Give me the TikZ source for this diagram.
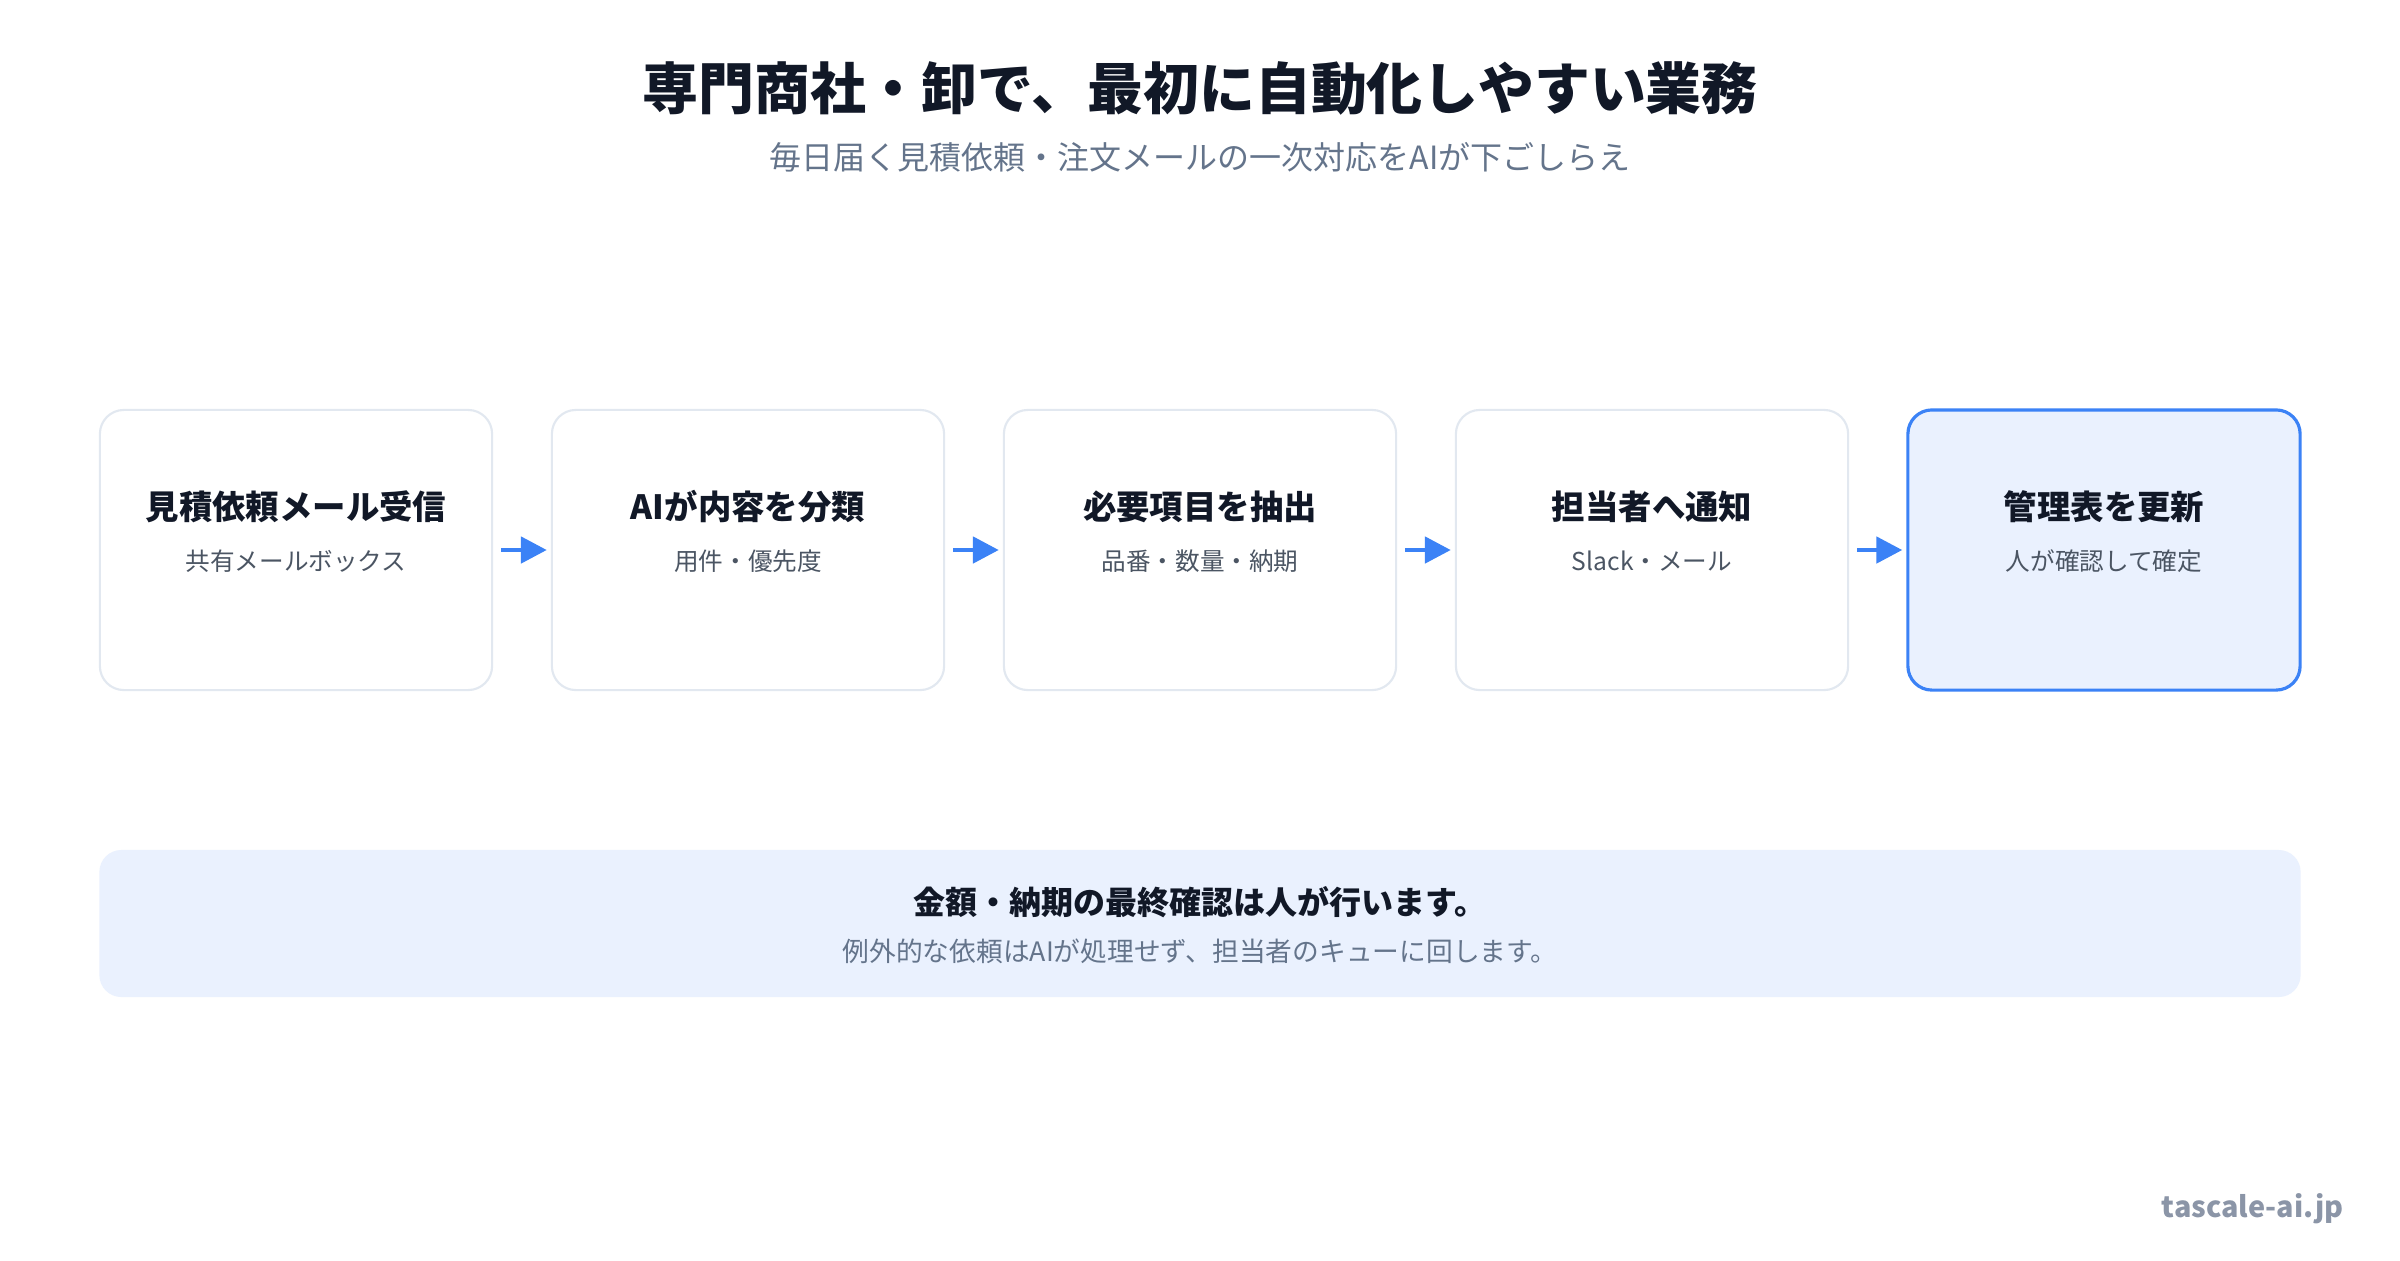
\documentclass[tikz,border=0pt]{standalone}
\usepackage{fontspec}
\setmainfont{Noto Sans CJK JP}
\usetikzlibrary{arrows.meta}

\definecolor{inkdark}{HTML}{111827}
\definecolor{inkgray}{HTML}{64748B}
\definecolor{subgray}{HTML}{4B5563}
\definecolor{edgegray}{HTML}{E2E8F0}
\definecolor{paleblue}{HTML}{EAF1FE}
\definecolor{flowblue}{HTML}{3B82F6}
\definecolor{footgray}{HTML}{8B95A7}

\begin{document}
\begin{tikzpicture}[x=0.01cm, y=-0.01cm,
  stepbox/.style = {rectangle, rounded corners=0.24cm, draw=edgegray, line width=0.6pt, fill=white, minimum width=3.92cm, minimum height=2.8cm},
  lastbox/.style = {stepbox, draw=flowblue, line width=0.9pt, fill=paleblue},
  steptitle/.style = {inner sep=0pt, text=inkdark, font=\fontsize{9.5pt}{11pt}\selectfont\bfseries},
  stepnote/.style = {inner sep=0pt, text=subgray, font=\fontsize{7pt}{8.5pt}\selectfont},
  flowarrow/.style = {draw=flowblue, line width=1.4pt, shorten <=0.08cm, shorten >=0.04cm, -{Triangle[length=0.26cm, width=0.26cm]}}]

\useasboundingbox[fill=white] (0,0) rectangle (2400,1260);

\node[inner sep=0pt, text=inkdark, font=\fontsize{15.9pt}{18pt}\selectfont\bfseries] (title) at (1200,88) {専門商社・卸で、最初に自動化しやすい業務};
\node[inner sep=0pt, text=inkgray, font=\fontsize{9.1pt}{11pt}\selectfont] (subtitle) at (1200,157) {毎日届く見積依頼・注文メールの一次対応をAIが下ごしらえ};

\node[stepbox] (b1) at (296,550) {};
\node[steptitle] (b1t) at (296,507) {見積依頼メール受信};
\node[stepnote] (b1s) at (296,561) {共有メールボックス};

\node[stepbox] (b2) at (748,550) {};
\node[steptitle] (b2t) at (748,507) {AIが内容を分類};
\node[stepnote] (b2s) at (748,561) {用件・優先度};

\node[stepbox] (b3) at (1200,550) {};
\node[steptitle] (b3t) at (1200,507) {必要項目を抽出};
\node[stepnote] (b3s) at (1200,561) {品番・数量・納期};

\node[stepbox] (b4) at (1652,550) {};
\node[steptitle] (b4t) at (1652,507) {担当者へ通知};
\node[stepnote] (b4s) at (1652,561) {Slack・メール};

\node[lastbox] (b5) at (2104,550) {};
\node[steptitle] (b5t) at (2104,507) {管理表を更新};
\node[stepnote] (b5s) at (2104,561) {人が確認して確定};

\draw[flowarrow] (b1.east) -- (b2.west);
\draw[flowarrow] (b2.east) -- (b3.west);
\draw[flowarrow] (b3.east) -- (b4.west);
\draw[flowarrow] (b4.east) -- (b5.west);

% note panel
\node[rectangle, rounded corners=0.22cm, fill=paleblue, minimum width=22cm, minimum height=1.47cm] (panel) at (1200,923.5) {};
\node[inner sep=0pt, text=inkdark, font=\fontsize{9.1pt}{11pt}\selectfont\bfseries] (panelt) at (1200,902) {金額・納期の最終確認は人が行います。};
\node[inner sep=0pt, text=inkgray, font=\fontsize{7.6pt}{9pt}\selectfont] (panels) at (1200,951) {例外的な依頼はAIが処理せず、担当者のキューに回します。};

\node[inner sep=0pt, anchor=east, text=footgray, font=\fontsize{8.2pt}{10pt}\selectfont\bfseries] (site) at (2344,1209) {tascale-ai.jp};

\end{tikzpicture}
\end{document}
